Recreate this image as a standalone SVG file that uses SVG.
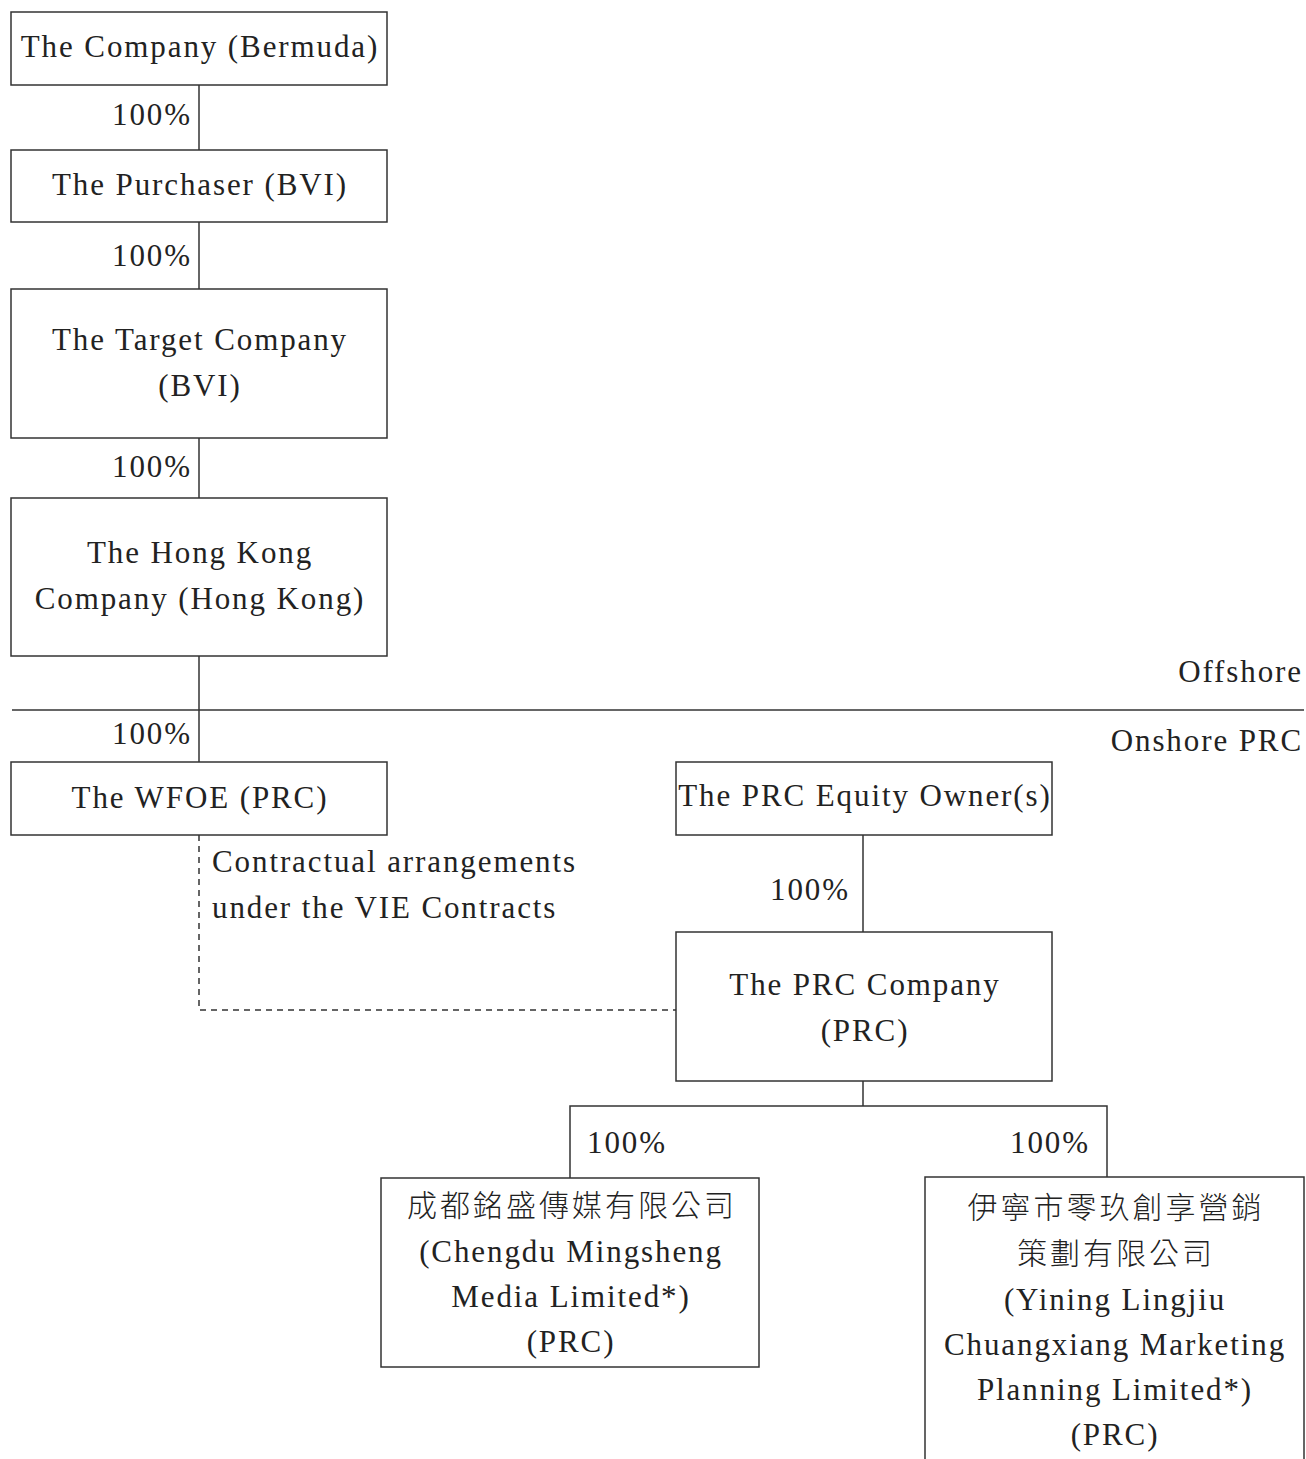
<svg xmlns="http://www.w3.org/2000/svg" width="1306" height="1459" viewBox="0 0 1306 1459">
<style>
.box{fill:#fff;stroke:#333;stroke-width:1.5}
.ln{stroke:#333;stroke-width:1.5;fill:none}
.dash{stroke:#333;stroke-width:1.5;fill:none;stroke-dasharray:6,5}
text{font-family:"Liberation Serif","Noto Sans CJK TC",serif;font-size:31px;fill:#222;letter-spacing:1.9px}
.c{text-anchor:middle}
.r{text-anchor:end}
.cjk{font-family:"Noto Sans CJK TC",serif;font-size:30px;letter-spacing:3px;font-weight:300}
</style>
<rect width="1306" height="1459" fill="#fff"/>
<g id="connectors">
<line class="ln" x1="199" y1="85" x2="199" y2="150"/>
<line class="ln" x1="199" y1="222" x2="199" y2="289"/>
<line class="ln" x1="199" y1="438" x2="199" y2="498"/>
<line class="ln" x1="199" y1="656" x2="199" y2="762"/>
<line class="ln" x1="12" y1="710" x2="1304" y2="710"/>
<polyline class="dash" points="199,835 199,1010 676,1010"/>
<line class="ln" x1="863" y1="835" x2="863" y2="932"/>
<polyline class="ln" points="863,1081 863,1106"/>
<polyline class="ln" points="570,1178 570,1106 1107,1106 1107,1177"/>
<text class="r" x="192" y="125">100%</text>
<text class="r" x="192" y="266">100%</text>
<text class="r" x="192" y="477">100%</text>
<text class="r" x="192" y="744">100%</text>
<text class="r" x="850" y="900">100%</text>
<text x="587" y="1153">100%</text>
<text class="r" x="1090" y="1153">100%</text>
<text x="212" y="872">Contractual arrangements</text>
<text x="212" y="918">under the VIE Contracts</text>
</g>
<g id="zones">
<text class="r" x="1303" y="682">Offshore</text>
<text class="r" x="1303" y="751">Onshore PRC</text>
</g>
<g id="company">
<rect class="box" x="11" y="12" width="376" height="73"/>
<text class="c" x="200" y="57">The Company (Bermuda)</text>
</g>
<g id="purchaser">
<rect class="box" x="11" y="150" width="376" height="72"/>
<text class="c" x="200" y="195">The Purchaser (BVI)</text>
</g>
<g id="target">
<rect class="box" x="11" y="289" width="376" height="149"/>
<text class="c" x="200" y="350">The Target Company</text>
<text class="c" x="200" y="396">(BVI)</text>
</g>
<g id="hongkong">
<rect class="box" x="11" y="498" width="376" height="158"/>
<text class="c" x="200" y="563">The Hong Kong</text>
<text class="c" x="200" y="609">Company (Hong Kong)</text>
</g>
<g id="wfoe">
<rect class="box" x="11" y="762" width="376" height="73"/>
<text class="c" x="200" y="808">The WFOE (PRC)</text>
</g>
<g id="equity-owners">
<rect class="box" x="676" y="762" width="376" height="73"/>
<text class="c" x="865" y="806">The PRC Equity Owner(s)</text>
</g>
<g id="prc-company">
<rect class="box" x="676" y="932" width="376" height="149"/>
<text class="c" x="865" y="995">The PRC Company</text>
<text class="c" x="865" y="1041">(PRC)</text>
</g>
<g id="chengdu">
<rect class="box" x="381" y="1178" width="378" height="189"/>
<text class="c cjk" x="572" y="1216">成都銘盛傳媒有限公司</text>
<text class="c" x="571" y="1262">(Chengdu Mingsheng</text>
<text class="c" x="571" y="1307">Media Limited*)</text>
<text class="c" x="571" y="1352">(PRC)</text>
</g>
<g id="yining">
<rect class="box" x="925" y="1177" width="379" height="300"/>
<text class="c cjk" x="1116" y="1218">伊寧市零玖創享營銷</text>
<text class="c cjk" x="1116" y="1264">策劃有限公司</text>
<text class="c" x="1115" y="1310">(Yining Lingjiu</text>
<text class="c" x="1115" y="1355">Chuangxiang Marketing</text>
<text class="c" x="1115" y="1400">Planning Limited*)</text>
<text class="c" x="1115" y="1445">(PRC)</text>
</g>
</svg>
